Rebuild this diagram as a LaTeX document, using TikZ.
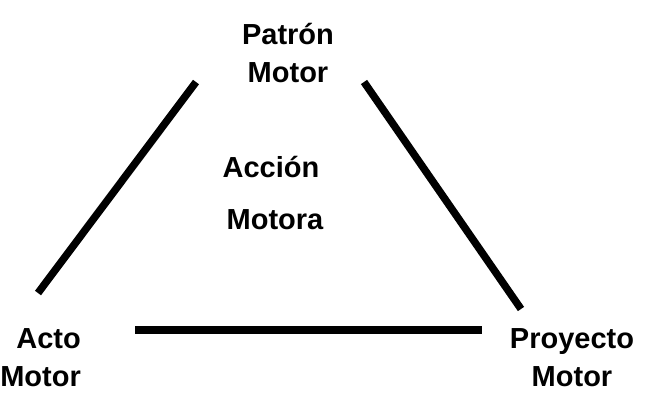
\documentclass[tikz,border=0pt]{standalone}
\usepackage{fontspec}
\setmainfont{Liberation Sans}
\usetikzlibrary{positioning}

\begin{document}
\begin{tikzpicture}[
  x=1pt, y=-1pt,
  every node/.style={font=\bfseries\fontsize{29}{38}\selectfont,
                     inner sep=0pt, align=center},
  side/.style={line width=7.5pt}
]
\useasboundingbox (0,0) rectangle (647,392);
\node (patron)   [anchor=base] at (288,82) {Patrón\\ Motor};
\node (accion)   [anchor=base] at (271,177) {Acción};
\node (motora)   [anchor=base] at (275,229) {Motora};
\node (acto)     [anchor=base east, align=right] at (81,386) {Acto\\ Motor};
\node (proyecto) [anchor=base] at (572,386) {Proyecto\\ Motor};

\coordinate (pl) at (196,82);
\coordinate (al) at (38,293);
\coordinate (pr) at (364,82);
\coordinate (yr) at (521,309);
\coordinate (ab) at (135,330);
\coordinate (yb) at (482,330);

\draw[side] (pl) -- (al);
\draw[side] (pr) -- (yr);
\draw[side] (ab) -- (yb);
\end{tikzpicture}
\end{document}
